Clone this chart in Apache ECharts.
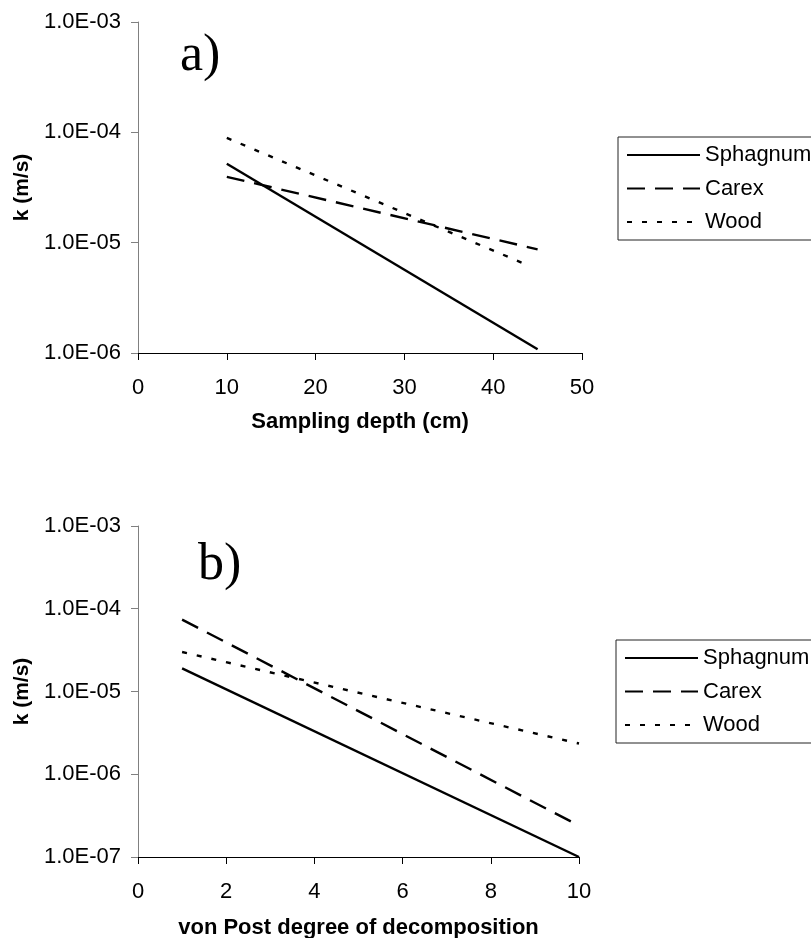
<!DOCTYPE html>
<html lang="en">

<head>
  <meta charset="UTF-8" />
  <meta name="viewport" content="width=device-width, initial-scale=1.0" />
  <title>Hydraulic conductivity of peat</title>
  <script src="https://cdn.jsdelivr.net/npm/echarts@6/dist/echarts.min.js"></script>
  <style>
    html,
    body {
      margin: 0;
      padding: 0;
      background: #fff;
    }

    #main {
      width: 811px;
      height: 938px;
    }
  </style>
</head>

<body>
  <div id="main"></div>

  <script type="text/javascript">
    var seriesNames = ['Sphagnum', 'Carex', 'Wood'];

    // a) k against sampling depth (cm)
    var depthSphagnum = [10, 45];
    var kDepthSphagnum = [5.2e-5, 1.08e-6];
    var depthCarex = [10, 45];
    var kDepthCarex = [3.95e-5, 8.7e-6];
    var depthWood = [10, 44];
    var kDepthWood = [8.9e-5, 6.2e-6];

    // b) k against von Post degree of decomposition
    var vonPostSphagnum = [1, 10];
    var kVonPostSphagnum = [1.9e-5, 1.0e-7];
    var vonPostCarex = [1, 9.9];
    var kVonPostCarex = [7.4e-5, 2.55e-7];
    var vonPostWood = [1, 10];
    var kVonPostWood = [3.0e-5, 2.35e-6];

    var lineTypes = ['solid', [18, 10], [5, 10]];
    var font = 'Liberation Sans, Arial, sans-serif';

    function pairs(xs, ys) {
      return xs.map(function (x, i) {
        return [x, ys[i]];
      });
    }

    // 1.0E-05 style labels
    function sci(v) {
      var e = Math.round(Math.log10(v));
      var m = v / Math.pow(10, e);
      return m.toFixed(1) + 'E' + (e < 0 ? '-' : '+') + String(Math.abs(e)).padStart(2, '0');
    }

    function xAxisOpt(gridIndex, name, max, interval, nameGap) {
      return {
        type: 'value',
        gridIndex: gridIndex,
        min: 0,
        max: max,
        interval: interval,
        name: name,
        nameLocation: 'middle',
        nameGap: nameGap,
        nameTextStyle: { fontFamily: font, fontSize: 22, fontWeight: 'bold', color: '#000' },
        axisLine: { onZero: false, lineStyle: { color: '#000', width: 1 } },
        axisTick: { show: true, length: 7, lineStyle: { color: '#000' } },
        axisLabel: { margin: 24, fontFamily: font, fontSize: 22, color: '#000' },
        splitLine: { show: false },
      };
    }

    function yAxisOpt(gridIndex, min, max) {
      return {
        type: 'log',
        logBase: 10,
        gridIndex: gridIndex,
        min: min,
        max: max,
        name: 'k (m/s)',
        nameLocation: 'middle',
        nameRotate: 90,
        nameGap: 104,
        nameTextStyle: { fontFamily: font, fontSize: 21, fontWeight: 'bold', color: '#000' },
        axisLine: { show: true, onZero: false, lineStyle: { color: '#808080', width: 1 } },
        axisTick: { show: true, length: 7, lineStyle: { color: '#808080' } },
        axisLabel: { margin: 17, fontFamily: font, fontSize: 22, color: '#000', formatter: sci },
        splitLine: { show: false },
      };
    }

    function legendOpt(left, top) {
      return {
        data: seriesNames,
        orient: 'vertical',
        left: left,
        top: top,
        selectedMode: false,
        itemWidth: 73,
        itemHeight: 14,
        itemGap: 11.5,
        padding: [7, 80, 7, 8],
        borderColor: '#222',
        borderWidth: 1,
        backgroundColor: '#fff',
        itemStyle: { color: 'transparent', borderWidth: 0 },
        textStyle: { fontFamily: font, fontSize: 22, color: '#000' },
      };
    }

    function lineSeries(name, i, axisIndex, data) {
      return {
        name: name,
        type: 'line',
        xAxisIndex: axisIndex,
        yAxisIndex: axisIndex,
        data: data,
        symbol: 'none',
        silent: true,
        animation: false,
        lineStyle: { color: '#000', width: 2.4, type: lineTypes[i] },
      };
    }

    var myChart = echarts.init(document.getElementById('main'));

    var option = {
      backgroundColor: '#fff',
      animation: false,
      title: [
        {
          text: 'a)',
          left: 180,
          top: 30,
          padding: 0,
          textStyle: { fontFamily: 'Liberation Serif, Times New Roman, serif', fontSize: 52, fontWeight: 'normal', color: '#000' },
        },
        {
          text: 'b)',
          left: 198,
          top: 539,
          padding: 0,
          textStyle: { fontFamily: 'Liberation Serif, Times New Roman, serif', fontSize: 52, fontWeight: 'normal', color: '#000' },
        },
      ],
      legend: [legendOpt(618, 137), legendOpt(616, 640)],
      grid: [
        { left: 138, top: 22, width: 444, height: 331, containLabel: false, outerBoundsMode: 'none' },
        { left: 138, top: 526, width: 441, height: 331, containLabel: false, outerBoundsMode: 'none' },
      ],
      xAxis: [
        xAxisOpt(0, 'Sampling depth (cm)', 50, 10, 58),
        xAxisOpt(1, 'von Post degree of decomposition', 10, 2, 60),
      ],
      yAxis: [yAxisOpt(0, 1e-6, 1e-3), yAxisOpt(1, 1e-7, 1e-3)],
      series: [
        lineSeries(seriesNames[0], 0, 0, pairs(depthSphagnum, kDepthSphagnum)),
        lineSeries(seriesNames[1], 1, 0, pairs(depthCarex, kDepthCarex)),
        lineSeries(seriesNames[2], 2, 0, pairs(depthWood, kDepthWood)),
        lineSeries(seriesNames[0], 0, 1, pairs(vonPostSphagnum, kVonPostSphagnum)),
        lineSeries(seriesNames[1], 1, 1, pairs(vonPostCarex, kVonPostCarex)),
        lineSeries(seriesNames[2], 2, 1, pairs(vonPostWood, kVonPostWood)),
      ],
    };

    myChart.setOption(option);
  </script>
</body>

</html>
